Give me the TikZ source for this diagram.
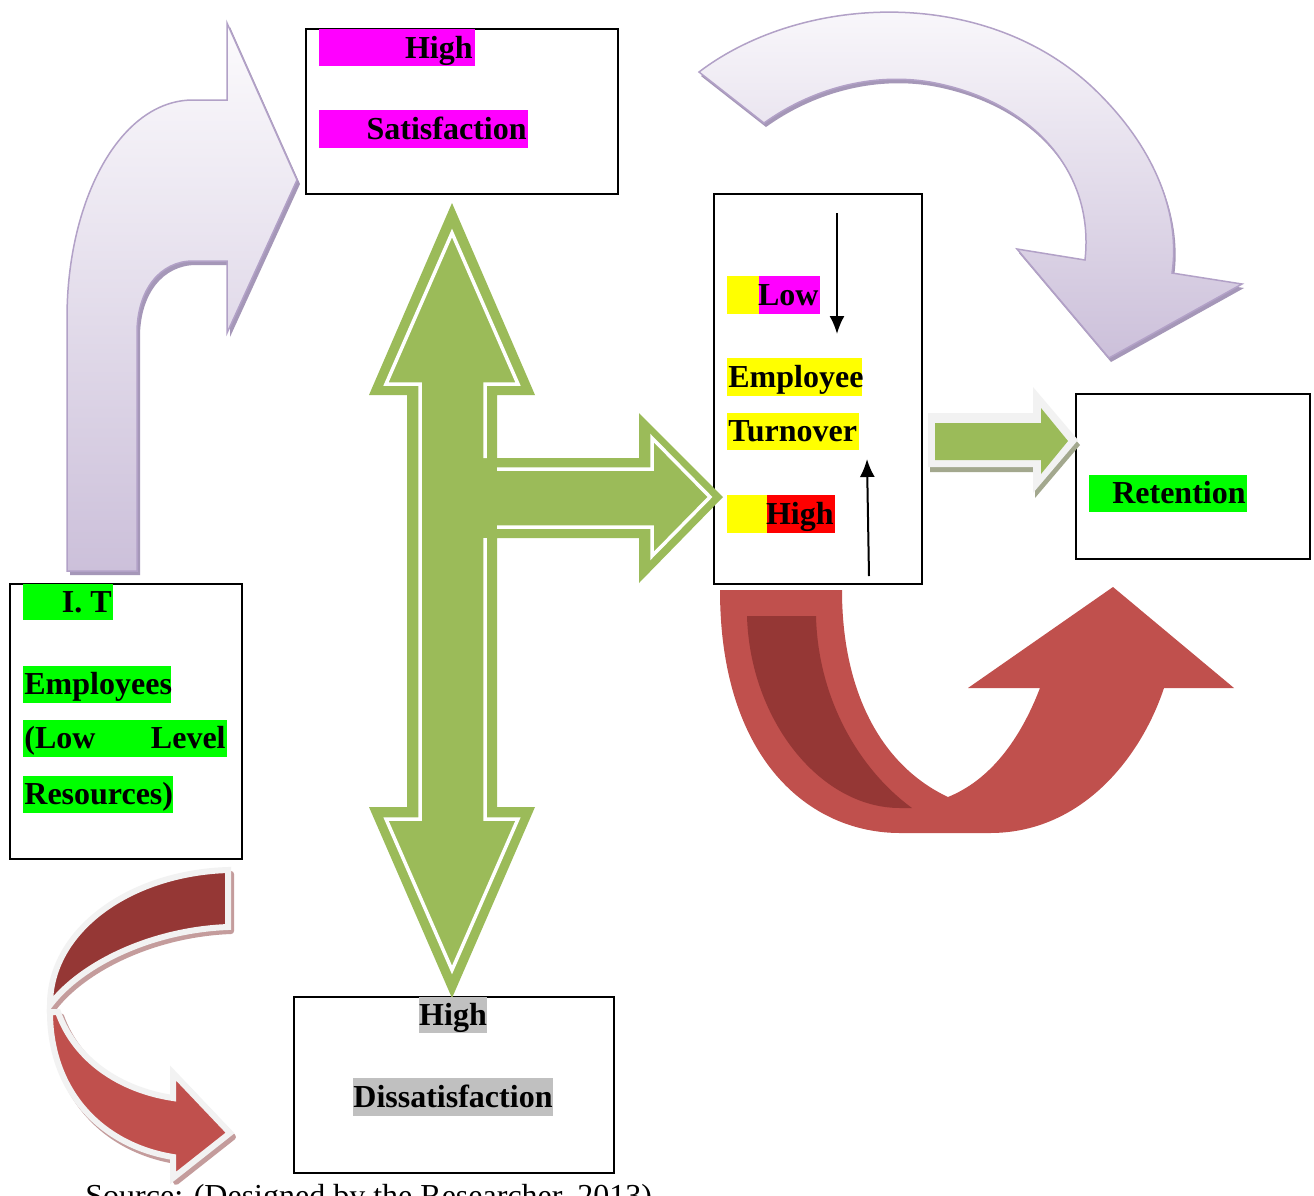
\documentclass[tikz,border=0pt]{standalone}
\usepackage{fontspec}
\setmainfont{Liberation Serif}
\usetikzlibrary{arrows.meta}
\definecolor{lavtop}{HTML}{FCFBFD}
\definecolor{lavbot}{HTML}{CCC0DA}
\definecolor{lavedge}{HTML}{B2A1C7}
\definecolor{lavshadow}{HTML}{A597B8}
\definecolor{olive}{HTML}{9BBB59}
\definecolor{oliveshadow}{HTML}{A3A88E}
\definecolor{redmain}{HTML}{C0504D}
\definecolor{reddark}{HTML}{953735}
\definecolor{redshadow}{HTML}{C49C9C}
\definecolor{rimgray}{HTML}{F2F2F2}
\definecolor{hlgreen}{HTML}{00FF00}
\definecolor{hlmagenta}{HTML}{FF00FF}
\definecolor{hlyellow}{HTML}{FFFF00}
\definecolor{hlred}{HTML}{FF0000}
\definecolor{hlgray}{HTML}{C0C0C0}
\begin{document}
\begin{tikzpicture}[x=0.5pt,y=-0.5pt,
  box/.style={draw=black,line width=1pt,anchor=north west,inner sep=0pt},
  txt/.style={inner sep=0pt,font=\fontsize{16}{19}\selectfont\bfseries},
  lavarrow/.style={draw=lavedge,line width=0.75pt,top color=lavtop,bottom color=lavbot},
  whiteline/.style={draw=white,line width=1.75pt},
  thinarrow/.style={draw=black,line width=1pt,-{Latex[length=9pt,width=7.5pt]}}]
\useasboundingbox (0,0) rectangle (1314,1196);
\clip (0,0) rectangle (1314,1196);
\fill[white] (0,0) rectangle (1314,1196);

% boxes
\node[box,minimum width=156pt,minimum height=82.5pt] (sat) at (305,28) {};
\node[box,minimum width=104pt,minimum height=195pt] (turn) at (713,193) {};
\node[box,minimum width=117pt,minimum height=82.5pt] (ret) at (1075,393) {};
\node[box,minimum width=116pt,minimum height=137.5pt] (it) at (9,583) {};
\node[box,minimum width=160pt,minimum height=88pt] (dis) at (293,996) {};

% bent arrow from I.T towards satisfaction
\fill[lavshadow] ([shift={(3,4)}]67,571) -- ++(0,-253) .. controls +(0,-118) and +(-73,0) .. ++(126,-218) -- ++(34,0) -- ++(0,-77) -- ++(70,157) -- ++(-70,153) -- ++(0,-72) -- ++(-34,0) .. controls +(-33,0) and +(0,-43) .. ++(-56,72) -- ++(0,238) -- cycle;
\path[lavarrow] (67,571) -- (67,318) .. controls (67,200) and (120,100) .. (193,100) -- (227,100) -- (227,23) -- (297,180) -- (227,333) -- (227,261) -- (193,261) .. controls (160,261) and (137,290) .. (137,333) -- (137,571) -- cycle;

% curved arrow over the top towards retention
\fill[lavshadow] ([shift={(2,4)}]699,72) .. controls +(101,-77) and +(-110,-100) .. ++(391,13) .. controls +(70,65) and +(8,-53) .. ++(82,188) -- ++(70,11) -- ++(-133,74) -- ++(-92,-109) -- ++(68,11) .. controls +(10,-90) and +(100,18) .. ++(-155,-178) .. controls +(-60,-10) and +(46,-33) .. ++(-166,41) -- cycle;
\path[lavarrow] (699,72) .. controls (800,-5) and (980,-15) .. (1090,85) .. controls (1160,150) and (1180,220) .. (1172,273) -- (1242,284) -- (1109,358) -- (1017,249) -- (1085,260) .. controls (1095,170) and (1030,100) .. (930,82) .. controls (870,72) and (810,90) .. (764,123) -- cycle;

% green double arrow with branch to turnover
\fill[olive] (452,203) -- (535,395) -- (497,395) -- (497,458) -- (639,458) -- (639,413) -- (723,497) -- (639,583) -- (639,538) -- (497,538) -- (497,807) -- (535,807) -- (452,998) -- (369,807) -- (407,807) -- (407,395) -- (369,395) -- cycle;
\draw[whiteline] (485,458) -- (485,384) -- (518,384) -- (452,233) -- (386,384) -- (420,384) -- (420,819) -- (386,819) -- (452,970) -- (518,819) -- (485,819) -- (485,538);
\draw[whiteline] (497,469) -- (652,469) -- (652,438) -- (710,497) -- (652,556) -- (652,527) -- (497,527);

% small arrow towards retention
\fill[oliveshadow] (930,472) -- (1035,472) -- (1035,498) -- (1080,445) -- (1035,392) -- (1035,418) -- (930,418) -- cycle;
\fill[rimgray] (928,413) -- (1033,413) -- (1033,387) -- (1078,440) -- (1033,493) -- (1033,467) -- (928,467) -- cycle;
\fill[olive] (935,423) -- (1041,423) -- (1041,408) -- (1068,441) -- (1041,474) -- (1041,460) -- (935,460) -- cycle;

% U-turn arrow below turnover
\fill[redmain] (720,590) .. controls (720,760) and (810,833) .. (900,833) -- (990,833) .. controls (1080,833) and (1140,760) .. (1164,688) -- (1234,688) -- (1113,587) -- (968,688) -- (1040,688) .. controls (1020,740) and (990,780) .. (948,797) .. controls (880,765) and (842,690) .. (842,590) -- cycle;
\fill[reddark] (747,616) .. controls (750,720) and (820,808) .. (900,808) -- (912,808) .. controls (860,770) and (818,700) .. (816,616) -- cycle;

% twisted ribbon arrow towards dissatisfaction
\begin{scope}[shift={(3,4)}]
\draw[redshadow,fill=redshadow,line width=3pt,line join=round] (50,1012) .. controls (50,1090) and (100,1145) .. (173,1157) -- (173,1178) -- (230,1133) -- (173,1073) -- (173,1098) .. controls (120,1090) and (75,1060) .. (58,1012) -- cycle;
\draw[redshadow,fill=redshadow,line width=3pt,line join=round] (228,870) .. controls (130,873) and (50,930) .. (50,1005) .. controls (80,965) and (150,930) .. (228,927) -- cycle;
\end{scope}
\draw[rimgray,fill=redmain,line width=3pt] (50,1012) .. controls (50,1090) and (100,1145) .. (173,1157) -- (173,1178) -- (230,1133) -- (173,1073) -- (173,1098) .. controls (120,1090) and (75,1060) .. (58,1012) -- cycle;
\draw[rimgray,fill=reddark,line width=3pt] (228,870) .. controls (130,873) and (50,930) .. (50,1005) .. controls (80,965) and (150,930) .. (228,927) -- cycle;

% satisfaction texts
\fill[hlmagenta] (319,29) rectangle (475,66);
\node[txt,anchor=base east] (sathigh) at (473,58) {High};
\fill[hlmagenta] (319,110) rectangle (528,148);
\node[txt,anchor=base east] (satword) at (527,139) {Satisfaction};

% turnover texts
\fill[hlyellow] (727,276) rectangle (759,314);
\fill[hlmagenta] (759,276) rectangle (820,314);
\node[txt,anchor=base east] (tlow) at (819,305) {Low};
\fill[hlyellow] (727,358) rectangle (862,396);
\node[txt,anchor=base west] (temp) at (728,387) {Employee};
\fill[hlyellow] (727,413) rectangle (859,450);
\node[txt,anchor=base west] (tturn) at (728,441) {Turnover};
\fill[hlyellow] (727,495) rectangle (767,533);
\fill[hlred] (767,495) rectangle (835,533);
\node[txt,anchor=base east] (thigh) at (834,524) {High};
\coordinate (dnfrom) at (837,213);
\coordinate (dnto) at (837,334);
\coordinate (upfrom) at (869,576);
\coordinate (upto) at (867,459);
\draw[thinarrow] (dnfrom) -- (dnto);
\draw[thinarrow] (upfrom) -- (upto);

% retention text
\fill[hlgreen] (1089,475) rectangle (1247,512);
\node[txt,anchor=base east] (retword) at (1246,503) {Retention};

% I.T employees texts
\fill[hlgreen] (23,584) rectangle (113,620);
\node[txt,anchor=base east] (itword) at (112,612) {I. T};
\fill[hlgreen] (23,666) rectangle (171,703);
\node[txt,anchor=base west] (itemp) at (24,694) {Employees};
\fill[hlgreen] (23,720) rectangle (227,757);
\node[txt,anchor=base west] (itlow) at (24,748) {(Low};
\node[txt,anchor=base east] (itlevel) at (226,748) {Level};
\fill[hlgreen] (23,776) rectangle (173,813);
\node[txt,anchor=base west] (itres) at (24,804) {Resources)};

% dissatisfaction texts
\fill[hlgray] (419,997) rectangle (487,1033);
\node[txt,anchor=base] (dishigh) at (453,1025) {High};
\fill[hlgray] (353,1078) rectangle (553,1116);
\node[txt,anchor=base] (disword) at (453,1107) {Dissatisfaction};

% source line, running past the lower edge
\node[inner sep=0pt,anchor=base west,font=\fontsize{16}{19}\selectfont] (src) at (85,1206) {Source: (Designed by the Researcher, 2013)};
\end{tikzpicture}
\end{document}
